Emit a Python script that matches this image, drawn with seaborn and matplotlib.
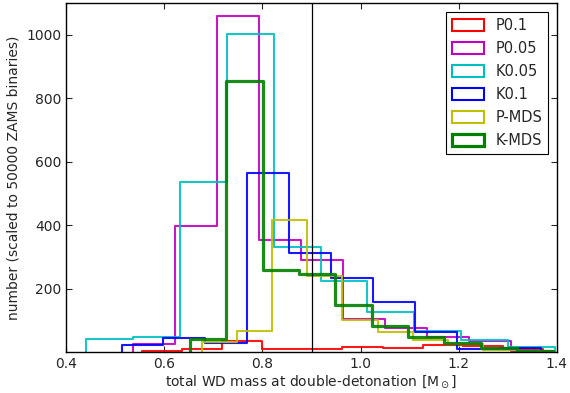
import numpy as np
import pandas as pd
import matplotlib
matplotlib.use("Agg")
import matplotlib.pyplot as plt
from matplotlib.patches import Patch
import seaborn as sns

# bin counts, 10 equal bins per model between lo and hi
labels = ["P0.1", "P0.05", "K0.05", "K0.1", "P-MDS", "K-MDS"]
colors = ["r", "m", "c", "b", "y", "g"]
ranges = [(0.554, 1.372), (0.537, 1.393), (0.441, 1.396),
          (0.513, 1.367), (0.676, 1.393), (0.652, 1.393)]

p01 = [3, 10, 35, 10, 9, 17, 13, 24, 19, 10]
p005 = [27, 399, 1060, 352, 289, 105, 76, 48, 34, 5]
k005 = [42, 48, 536, 1003, 331, 225, 126, 68, 39, 16]
k01 = [22, 46, 29, 564, 312, 235, 158, 63, 11, 14]
pmds = [32, 67, 417, 239, 102, 63, 37, 25, 8, 4]
kmds = [40, 854, 258, 245, 147, 82, 48, 30, 13, 5]
counts = [p01, p005, k005, k01, pmds, kmds]

sns.set_style("ticks")
plt.rcParams.update({
    "font.family": ["DejaVu Sans"],
    "font.size": 10,
    "xtick.direction": "in", "ytick.direction": "in",
    "xtick.top": True, "ytick.right": True,
    "xtick.major.size": 4, "ytick.major.size": 4,
    "axes.edgecolor": "black", "axes.linewidth": 1.0,
})

fig, ax = plt.subplots(figsize=(5.7, 3.93), dpi=100)
fig.subplots_adjust(left=0.116, right=0.977, bottom=0.104, top=0.992)

for lab, col, (lo, hi), vals in zip(labels, colors, ranges, counts):
    edges = np.linspace(lo, hi, len(vals) + 1)
    centers = (edges[:-1] + edges[1:]) / 2
    # tiny empty bins at both ends so the outline drops to zero like hist(histtype='step')
    bins = [lo - 1e-6] + edges.tolist() + [hi + 1e-6]
    df = pd.DataFrame({"mass": centers, "n": vals})
    lw = 2.3 if lab == "K-MDS" else 1.5
    sns.histplot(data=df, x="mass", weights="n", bins=bins, element="step",
                 fill=False, color=col, linewidth=lw, alpha=0.9, ax=ax)

ax.axvline(0.9, color="black", linewidth=0.9)

ax.set_xlim(0.4, 1.4)
ax.set_ylim(0, 1100)
ax.set_xticks([0.4, 0.6, 0.8, 1.0, 1.2, 1.4])
ax.set_yticks([200, 400, 600, 800, 1000])
ax.set_xlabel(r"total WD mass at double-detonation [M$_\odot$]", labelpad=2)
ax.set_ylabel("number (scaled to 50000 ZAMS binaries)")

handles = [Patch(facecolor="none", edgecolor=c, linewidth=(2.3 if l == "K-MDS" else 1.5), label=l)
           for l, c in zip(labels, colors)]
leg = ax.legend(handles=handles, loc="upper right", fancybox=False, framealpha=1,
                edgecolor="black", fontsize=10.5, borderaxespad=0.6,
                handlelength=2.2, handleheight=0.9, labelspacing=0.55)
leg.get_frame().set_linewidth(0.8)

fig.savefig("out.png", dpi=100)
